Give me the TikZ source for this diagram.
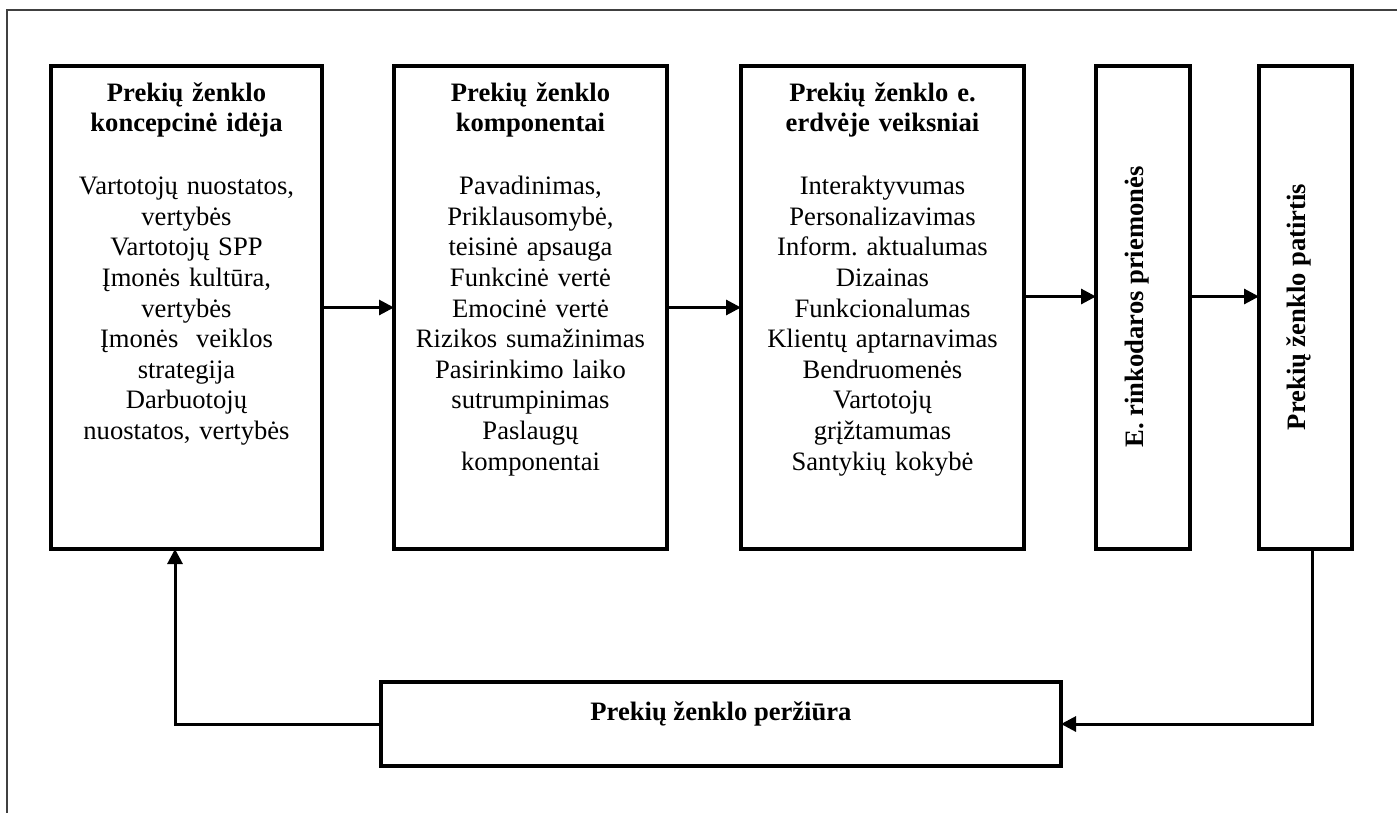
\documentclass[tikz,border=0pt]{standalone}
\usepackage{fontspec}
\setmainfont{Liberation Serif}
\usetikzlibrary{arrows.meta}
\frenchspacing
\tikzset{
  boxnode/.style={draw, line width=4pt, inner sep=0pt, outer sep=0pt},
  txt/.style={font=\fontsize{26.6}{30.6}\selectfont, inner sep=0pt, align=center},
  conn/.style={line width=3pt, -{Triangle[length=15pt,width=15pt]}},
  frameline/.style={line width=1.6pt, draw=black!75}
}
\begin{document}
\begin{tikzpicture}[x=1pt,y=-1pt]
\useasboundingbox (0,0) rectangle (1397,812);
\fill[white] (0,0) rectangle (1397,812);
% outer frame (only left and top edges fall inside the picture)
\draw[frameline] (7,830) -- (7,10) -- (1420,10);

% boxes
\node[boxnode, minimum width=271pt, minimum height=483pt] (b1) at (186.5,307.5) {};
\node[boxnode, minimum width=273pt, minimum height=483pt] (b2) at (530.5,307.5) {};
\node[boxnode, minimum width=283pt, minimum height=483pt] (b3) at (882.5,307.5) {};
\node[boxnode, minimum width=94pt, minimum height=483pt] (b4) at (1143,307.5) {};
\node[boxnode, minimum width=93pt, minimum height=483pt] (b5) at (1305.5,307.5) {};
\node[boxnode, minimum width=680pt, minimum height=84pt] (rv) at (721,724) {};

% texts
\node[txt, text width=262pt, anchor=base] (t1) at (186.5,101) {\textbf{Prekių ženklo}\\\textbf{koncepcinė idėja}\\[32.4pt]
Vartotojų nuostatos,\\vertybės\\Vartotojų SPP\\Įmonės kultūra,\\vertybės\\Įmonės\ \ veiklos\\strategija\\Darbuotojų\\nuostatos, vertybės};
\node[txt, text width=264pt, anchor=base] (t2) at (530.5,101) {\textbf{Prekių ženklo}\\\textbf{komponentai}\\[32.4pt]
Pavadinimas,\\Priklausomybė,\\teisinė apsauga\\Funkcinė vertė\\Emocinė vertė\\Rizikos sumažinimas\\Pasirinkimo laiko\\sutrumpinimas\\Paslaugų\\komponentai};
\node[txt, text width=274pt, anchor=base] (t3) at (882.5,101) {\textbf{Prekių ženklo e.}\\\textbf{erdvėje veiksniai}\\[32.4pt]
Interaktyvumas\\Personalizavimas\\Inform. aktualumas\\Dizainas\\Funkcionalumas\\Klientų aptarnavimas\\Bendruomenės\\Vartotojų\\grįžtamumas\\Santykių kokybė};
\node[txt, anchor=base, rotate=90] (t4) at (1143,307) {\textbf{E. rinkodaros priemonės}};
\node[txt, anchor=base, rotate=90] (t5) at (1305.5,307) {\textbf{Prekių ženklo patirtis}};
\node[txt, anchor=base] (t6) at (721,720) {\textbf{Prekių ženklo peržiūra}};

% connectors
\draw[conn] (b1.east) -- (b2.west);
\draw[conn] (b2.east) -- (b3.west);
\draw[conn] ([yshift=11pt]b3.east) -- ([yshift=11pt]b4.west);
\draw[conn] ([yshift=11pt]b4.east) -- ([yshift=11pt]b5.west);
\draw[conn] ([xshift=7pt]b5.south) |- (rv.east);
\draw[conn] (rv.west) -| ([xshift=-11.5pt]b1.south);
\end{tikzpicture}
\end{document}
